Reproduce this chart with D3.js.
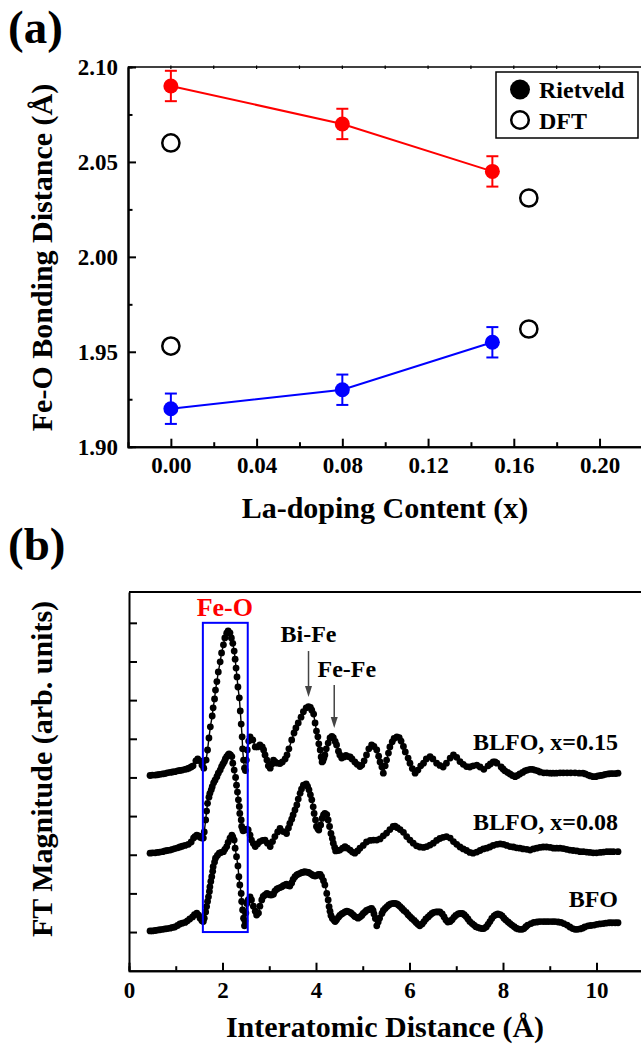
<!DOCTYPE html>
<html>
<head>
<meta charset="utf-8">
<script src="https://cdnjs.cloudflare.com/ajax/libs/d3/7.8.5/d3.min.js"></script>
<style>
  body { margin: 0; background: #fff; }
  text { font-family: "Liberation Serif", "Times New Roman", serif; font-weight: bold; }
</style>
</head>
<body>
<div id="chart"></div>
<script>
// ---- panel (a) data ----
var laContent = [0.00, 0.08, 0.15]
var rietveldLong = [2.090, 2.070, 2.045]
var rietveldShort = [1.920, 1.930, 1.955]
var rietveldErr = [0.008, 0.008, 0.008]
var dftContent = [0.000, 0.167]
var dftLong = [2.060, 2.031]
var dftShort = [1.953, 1.962]
var xTicksA = [0.00, 0.04, 0.08, 0.12, 0.16, 0.20]
var yTicksA = [1.90, 1.95, 2.00, 2.05, 2.10]

// ---- panel (b) data: [R (Å), FT magnitude] ----
var bfoCurve = [[0.45,0.03],[0.50,0.03],[0.56,0.04],[0.61,0.05],[0.66,0.06],[0.72,0.07],[0.77,0.08],[0.82,0.09],[0.88,0.10],[0.93,0.12],[0.98,0.13],[1.04,0.17],[1.09,0.21],[1.14,0.23],[1.20,0.25],[1.25,0.29],[1.30,0.34],[1.36,0.39],[1.40,0.45],[1.45,0.49],[1.49,0.44],[1.52,0.36],[1.56,0.29],[1.59,0.27],[1.61,0.36],[1.64,0.52],[1.66,0.66],[1.68,0.79],[1.70,0.91],[1.72,1.05],[1.73,1.17],[1.75,1.31],[1.77,1.43],[1.79,1.57],[1.80,1.69],[1.83,1.81],[1.85,1.91],[1.89,1.98],[1.93,2.04],[1.97,2.06],[2.02,2.08],[2.05,2.14],[2.09,2.21],[2.12,2.32],[2.16,2.43],[2.20,2.51],[2.22,2.46],[2.25,2.38],[2.27,2.17],[2.30,1.95],[2.33,1.71],[2.35,1.43],[2.37,1.22],[2.40,1.00],[2.41,0.79],[2.43,0.57],[2.45,0.36],[2.47,0.16],[2.48,0.29],[2.50,0.49],[2.52,0.74],[2.55,0.83],[2.59,0.91],[2.62,0.83],[2.66,0.67],[2.70,0.54],[2.73,0.44],[2.77,0.49],[2.80,0.67],[2.84,0.83],[2.87,0.92],[2.91,0.96],[2.95,1.00],[2.98,0.98],[3.02,0.96],[3.05,0.96],[3.09,0.98],[3.12,1.06],[3.16,1.11],[3.19,1.13],[3.23,1.15],[3.27,1.17],[3.30,1.20],[3.34,1.22],[3.37,1.24],[3.41,1.20],[3.44,1.19],[3.48,1.27],[3.51,1.36],[3.55,1.43],[3.59,1.48],[3.62,1.50],[3.66,1.52],[3.70,1.54],[3.73,1.55],[3.76,1.56],[3.81,1.55],[3.84,1.54],[3.87,1.52],[3.91,1.49],[3.94,1.46],[3.98,1.45],[4.01,1.46],[4.05,1.49],[4.09,1.49],[4.12,1.43],[4.16,1.33],[4.19,1.22],[4.23,1.00],[4.26,0.83],[4.28,0.66],[4.30,0.54],[4.32,0.43],[4.35,0.35],[4.39,0.30],[4.41,0.27],[4.44,0.32],[4.48,0.38],[4.51,0.43],[4.55,0.47],[4.58,0.49],[4.62,0.52],[4.66,0.54],[4.69,0.53],[4.73,0.51],[4.76,0.48],[4.80,0.44],[4.83,0.40],[4.87,0.38],[4.90,0.36],[4.94,0.39],[4.98,0.43],[5.01,0.48],[5.05,0.52],[5.08,0.56],[5.12,0.58],[5.16,0.60],[5.19,0.61],[5.22,0.56],[5.24,0.47],[5.27,0.35],[5.30,0.16],[5.33,0.26],[5.36,0.36],[5.41,0.48],[5.44,0.56],[5.48,0.61],[5.52,0.66],[5.56,0.70],[5.60,0.73],[5.65,0.74],[5.69,0.74],[5.73,0.73],[5.76,0.70],[5.80,0.66],[5.84,0.61],[5.88,0.56],[5.93,0.51],[5.97,0.45],[6.01,0.40],[6.05,0.35],[6.10,0.30],[6.14,0.25],[6.18,0.20],[6.22,0.16],[6.27,0.21],[6.31,0.27],[6.35,0.34],[6.40,0.39],[6.44,0.44],[6.48,0.48],[6.52,0.51],[6.57,0.52],[6.61,0.52],[6.65,0.52],[6.70,0.47],[6.74,0.39],[6.78,0.31],[6.82,0.26],[6.87,0.27],[6.91,0.32],[6.95,0.38],[6.99,0.43],[7.04,0.47],[7.08,0.48],[7.13,0.48],[7.17,0.45],[7.21,0.40],[7.25,0.34],[7.29,0.27],[7.34,0.22],[7.38,0.18],[7.42,0.14],[7.46,0.12],[7.51,0.10],[7.55,0.09],[7.59,0.09],[7.64,0.13],[7.68,0.20],[7.72,0.27],[7.76,0.35],[7.81,0.42],[7.85,0.45],[7.89,0.47],[7.94,0.45],[7.98,0.42],[8.02,0.36],[8.06,0.31],[8.11,0.26],[8.15,0.22],[8.19,0.18],[8.24,0.14],[8.28,0.10],[8.32,0.08],[8.36,0.07],[8.41,0.07],[8.45,0.09],[8.49,0.14],[8.53,0.18],[8.60,0.22],[8.66,0.25],[8.73,0.26],[8.79,0.27],[8.86,0.27],[8.92,0.27],[8.98,0.27],[9.05,0.27],[9.11,0.27],[9.18,0.26],[9.24,0.25],[9.30,0.22],[9.37,0.18],[9.43,0.13],[9.49,0.09],[9.54,0.07],[9.59,0.07],[9.65,0.08],[9.70,0.10],[9.75,0.13],[9.82,0.16],[9.88,0.17],[9.95,0.18],[10.01,0.20],[10.07,0.21],[10.14,0.22],[10.20,0.23],[10.27,0.24],[10.33,0.24],[10.40,0.24],[10.46,0.24]]

var blfo008Curve = [[0.45,0.04],[0.50,0.05],[0.56,0.05],[0.61,0.06],[0.66,0.07],[0.72,0.08],[0.77,0.10],[0.82,0.11],[0.88,0.12],[0.93,0.14],[0.98,0.16],[1.04,0.18],[1.09,0.20],[1.14,0.22],[1.20,0.24],[1.27,0.27],[1.33,0.33],[1.38,0.43],[1.41,0.47],[1.45,0.51],[1.49,0.49],[1.52,0.45],[1.56,0.43],[1.59,0.43],[1.61,0.59],[1.64,0.90],[1.66,1.13],[1.68,1.33],[1.71,1.49],[1.73,1.59],[1.76,1.68],[1.78,1.76],[1.81,1.86],[1.84,1.93],[1.88,2.02],[1.91,2.11],[1.95,2.19],[1.98,2.28],[2.01,2.35],[2.04,2.41],[2.06,2.48],[2.09,2.54],[2.12,2.58],[2.14,2.61],[2.17,2.58],[2.20,2.54],[2.22,2.37],[2.25,2.19],[2.28,2.00],[2.30,1.80],[2.32,1.62],[2.34,1.42],[2.36,1.25],[2.37,1.07],[2.40,0.90],[2.41,0.73],[2.43,0.67],[2.44,0.62],[2.48,0.64],[2.52,0.66],[2.55,0.64],[2.59,0.51],[2.62,0.38],[2.66,0.29],[2.70,0.21],[2.75,0.28],[2.80,0.34],[2.86,0.37],[2.91,0.38],[2.96,0.30],[3.02,0.21],[3.07,0.34],[3.12,0.47],[3.18,0.59],[3.23,0.68],[3.30,0.60],[3.37,0.55],[3.41,0.69],[3.44,0.81],[3.48,0.92],[3.51,1.03],[3.55,1.16],[3.59,1.29],[3.62,1.44],[3.66,1.59],[3.69,1.70],[3.73,1.80],[3.79,1.83],[3.82,1.77],[3.85,1.68],[3.88,1.55],[3.91,1.42],[3.94,1.24],[3.96,1.07],[3.99,0.90],[4.01,0.73],[4.04,0.67],[4.06,0.64],[4.10,0.77],[4.13,0.94],[4.16,1.03],[4.19,1.07],[4.23,1.04],[4.26,0.90],[4.29,0.73],[4.32,0.55],[4.35,0.42],[4.37,0.30],[4.40,0.19],[4.42,0.10],[4.47,0.11],[4.51,0.12],[4.57,0.17],[4.62,0.21],[4.67,0.17],[4.73,0.12],[4.78,0.07],[4.83,0.04],[4.89,0.10],[4.94,0.17],[5.01,0.24],[5.08,0.33],[5.16,0.37],[5.23,0.38],[5.30,0.38],[5.37,0.41],[5.44,0.49],[5.51,0.56],[5.58,0.65],[5.65,0.73],[5.69,0.74],[5.74,0.70],[5.80,0.65],[5.87,0.58],[5.94,0.47],[6.01,0.38],[6.08,0.30],[6.15,0.23],[6.22,0.20],[6.30,0.19],[6.37,0.21],[6.44,0.25],[6.51,0.30],[6.58,0.37],[6.65,0.42],[6.72,0.45],[6.79,0.47],[6.87,0.43],[6.94,0.34],[7.01,0.27],[7.08,0.20],[7.15,0.15],[7.22,0.11],[7.29,0.06],[7.36,0.04],[7.44,0.07],[7.51,0.11],[7.58,0.15],[7.65,0.17],[7.72,0.20],[7.79,0.24],[7.87,0.27],[7.94,0.28],[8.01,0.27],[8.08,0.24],[8.15,0.21],[8.22,0.20],[8.29,0.18],[8.36,0.17],[8.43,0.15],[8.51,0.14],[8.58,0.12],[8.65,0.15],[8.72,0.17],[8.79,0.19],[8.86,0.20],[8.93,0.20],[9.01,0.19],[9.08,0.17],[9.15,0.17],[9.22,0.17],[9.29,0.16],[9.36,0.14],[9.43,0.12],[9.50,0.11],[9.58,0.10],[9.65,0.08],[9.72,0.08],[9.79,0.07],[9.86,0.06],[9.93,0.05],[10.00,0.05],[10.08,0.06],[10.15,0.07],[10.22,0.08],[10.29,0.08],[10.36,0.08],[10.46,0.08]]

var blfo015Curve = [[0.45,0.05],[0.50,0.06],[0.56,0.06],[0.61,0.07],[0.66,0.08],[0.72,0.09],[0.77,0.10],[0.82,0.12],[0.88,0.13],[0.93,0.14],[0.98,0.15],[1.04,0.17],[1.09,0.18],[1.14,0.19],[1.20,0.21],[1.24,0.22],[1.28,0.24],[1.33,0.27],[1.37,0.30],[1.43,0.43],[1.47,0.48],[1.52,0.43],[1.56,0.32],[1.60,0.24],[1.65,0.45],[1.68,0.71],[1.71,1.02],[1.74,1.31],[1.78,1.59],[1.80,1.80],[1.83,2.03],[1.85,2.26],[1.88,2.48],[1.91,2.73],[1.95,2.99],[1.98,3.22],[2.02,3.43],[2.05,3.61],[2.09,3.73],[2.12,3.79],[2.16,3.74],[2.19,3.61],[2.22,3.47],[2.25,3.27],[2.27,3.06],[2.29,2.83],[2.31,2.60],[2.33,2.34],[2.36,2.06],[2.38,1.72],[2.40,1.38],[2.42,1.05],[2.43,0.74],[2.45,0.45],[2.47,0.24],[2.49,0.18],[2.51,0.45],[2.53,0.71],[2.56,0.94],[2.59,1.05],[2.65,0.97],[2.70,0.79],[2.75,0.79],[2.80,0.84],[2.85,0.79],[2.88,0.71],[2.91,0.58],[2.95,0.45],[2.98,0.30],[3.02,0.24],[3.06,0.35],[3.09,0.45],[3.12,0.41],[3.17,0.37],[3.23,0.36],[3.28,0.40],[3.34,0.48],[3.38,0.58],[3.42,0.74],[3.48,0.97],[3.53,1.15],[3.57,1.28],[3.62,1.41],[3.68,1.56],[3.73,1.70],[3.79,1.80],[3.84,1.83],[3.88,1.81],[3.91,1.74],[3.95,1.64],[3.98,1.41],[4.01,1.20],[4.04,1.05],[4.06,0.87],[4.09,0.71],[4.11,0.53],[4.13,0.40],[4.15,0.43],[4.17,0.50],[4.19,0.58],[4.22,0.74],[4.26,0.89],[4.30,1.02],[4.34,1.06],[4.37,1.03],[4.41,0.93],[4.44,0.84],[4.48,0.68],[4.51,0.58],[4.55,0.50],[4.60,0.53],[4.64,0.57],[4.69,0.54],[4.73,0.53],[4.77,0.48],[4.83,0.40],[4.88,0.34],[4.94,0.28],[4.98,0.32],[5.03,0.43],[5.08,0.58],[5.13,0.74],[5.19,0.84],[5.24,0.80],[5.30,0.71],[5.34,0.55],[5.37,0.40],[5.41,0.27],[5.44,0.11],[5.48,0.30],[5.51,0.45],[5.55,0.63],[5.58,0.79],[5.63,0.92],[5.67,1.01],[5.73,1.05],[5.78,1.03],[5.82,0.94],[5.87,0.80],[5.91,0.66],[5.97,0.50],[6.01,0.37],[6.06,0.23],[6.12,0.11],[6.18,0.19],[6.24,0.30],[6.30,0.37],[6.36,0.48],[6.44,0.54],[6.50,0.48],[6.58,0.37],[6.65,0.31],[6.72,0.27],[6.79,0.37],[6.87,0.50],[6.94,0.58],[7.01,0.52],[7.08,0.41],[7.15,0.34],[7.22,0.28],[7.29,0.27],[7.36,0.30],[7.44,0.32],[7.51,0.27],[7.59,0.21],[7.68,0.30],[7.73,0.35],[7.79,0.40],[7.83,0.40],[7.87,0.37],[7.96,0.27],[8.00,0.22],[8.04,0.17],[8.10,0.13],[8.15,0.09],[8.20,0.05],[8.26,0.02],[8.31,0.05],[8.36,0.09],[8.42,0.13],[8.47,0.17],[8.52,0.19],[8.58,0.21],[8.63,0.21],[8.68,0.19],[8.74,0.17],[8.79,0.14],[8.87,0.12],[8.94,0.12],[9.01,0.11],[9.07,0.11],[9.14,0.11],[9.22,0.12],[9.29,0.12],[9.37,0.12],[9.45,0.12],[9.54,0.12],[9.63,0.11],[9.71,0.11],[9.76,0.09],[9.82,0.06],[9.87,0.04],[9.93,0.02],[9.98,0.02],[10.03,0.04],[10.09,0.05],[10.14,0.06],[10.19,0.08],[10.25,0.09],[10.30,0.10],[10.35,0.10],[10.41,0.10],[10.46,0.11]]

var curveNames = ["BFO", "BLFO, x=0.08", "BLFO, x=0.15"]
var curveOffsets = [1, 3, 5]
var xTicksB = [0, 2, 4, 6, 8, 10]

var W = 641, H = 1049
var svg = d3.select("#chart").append("svg")
  .attr("width", W).attr("height", H)
svg.append("rect").attr("width", W).attr("height", H).attr("fill", "#fff")

// ================= panel (a) =================
var xA = d3.scaleLinear().domain([-0.02, 0.22]).range([128, 642.4])
var yA = d3.scaleLinear().domain([1.90, 2.10]).range([446.7, 67])
var gA = svg.append("g")

function styleAxis(g, size) {
  g.select(".domain").attr("stroke-width", 2)
  g.selectAll(".tick line").attr("stroke-width", 2)
  g.selectAll("text").style("font-size", size + "px").attr("fill", "#000")
}

// minor ticks first
gA.append("g").attr("transform", "translate(0,446.7)")
  .call(d3.axisBottom(xA).tickValues([0.02, 0.06, 0.10, 0.14, 0.18]).tickSize(-4.5).tickFormat(""))
  .call(styleAxis, 23)
gA.append("g").attr("transform", "translate(128,0)")
  .call(d3.axisLeft(yA).tickValues([1.925, 1.975, 2.025, 2.075]).tickSize(-4.5).tickFormat(""))
  .call(styleAxis, 23)

gA.append("g").attr("transform", "translate(0,446.7)")
  .call(d3.axisBottom(xA).tickValues(xTicksA).tickSizeInner(-8).tickSizeOuter(0)
    .tickPadding(10).tickFormat(d3.format(".2f")))
  .call(styleAxis, 23)
gA.append("g").attr("transform", "translate(128,0)")
  .call(d3.axisLeft(yA).tickValues(yTicksA).tickSizeInner(-8).tickSizeOuter(0)
    .tickPadding(10).tickFormat(d3.format(".2f")))
  .call(styleAxis, 23)

// top frame with tiny ticks
gA.append("line").attr("x1", 128).attr("x2", 642.4).attr("y1", 67).attr("y2", 67)
  .attr("stroke", "#000").attr("stroke-width", 1.5)
gA.append("g").selectAll("line").data(d3.range(0, 0.21, 0.02)).enter().append("line")
  .attr("x1", function(d) { return xA(d) }).attr("x2", function(d) { return xA(d) })
  .attr("y1", 65.5).attr("y2", 69).attr("stroke", "#000").attr("stroke-width", 1.2)
gA.append("line").attr("x1", 642.4).attr("x2", 642.4).attr("y1", 67).attr("y2", 446.7)
  .attr("stroke", "#000").attr("stroke-width", 2)

// Rietveld lines + error bars
var seriesA = [
  { vals: rietveldLong, colour: "#ff0000" },
  { vals: rietveldShort, colour: "#0000ff" }
]
seriesA.forEach(function(s) {
  var pts = laContent.map(function(x, i) { return [x, s.vals[i], rietveldErr[i]] })
  gA.append("path")
    .attr("d", d3.line().x(function(d) { return xA(d[0]) }).y(function(d) { return yA(d[1]) })(pts))
    .attr("fill", "none").attr("stroke", s.colour).attr("stroke-width", 2)
  var eb = gA.append("g").selectAll("g").data(pts).enter().append("g")
  eb.append("line")
    .attr("x1", function(d) { return xA(d[0]) }).attr("x2", function(d) { return xA(d[0]) })
    .attr("y1", function(d) { return yA(d[1] - d[2]) }).attr("y2", function(d) { return yA(d[1] + d[2]) })
    .attr("stroke", s.colour).attr("stroke-width", 2)
  ;[-1, 1].forEach(function(sgn) {
    eb.append("line")
      .attr("x1", function(d) { return xA(d[0]) - 6 }).attr("x2", function(d) { return xA(d[0]) + 6 })
      .attr("y1", function(d) { return yA(d[1] + sgn * d[2]) }).attr("y2", function(d) { return yA(d[1] + sgn * d[2]) })
      .attr("stroke", s.colour).attr("stroke-width", 2)
  })
  eb.append("circle")
    .attr("cx", function(d) { return xA(d[0]) }).attr("cy", function(d) { return yA(d[1]) })
    .attr("r", 7.5).attr("fill", s.colour)
})

// DFT open circles
var dftPts = []
dftContent.forEach(function(x, i) { dftPts.push([x, dftLong[i]]); dftPts.push([x, dftShort[i]]) })
gA.append("g").selectAll("circle").data(dftPts).enter().append("circle")
  .attr("cx", function(d) { return xA(d[0]) }).attr("cy", function(d) { return yA(d[1]) })
  .attr("r", 8.6).attr("fill", "none").attr("stroke", "#000").attr("stroke-width", 2.5)

// legend
var leg = gA.append("g")
leg.append("rect").attr("x", 496).attr("y", 72).attr("width", 142).attr("height", 66)
  .attr("fill", "#fff").attr("stroke", "#000").attr("stroke-width", 1.5)
leg.append("circle").attr("cx", 520).attr("cy", 89.5).attr("r", 10).attr("fill", "#000")
leg.append("circle").attr("cx", 520).attr("cy", 120).attr("r", 8.8)
  .attr("fill", "none").attr("stroke", "#000").attr("stroke-width", 2.5)
leg.append("text").attr("x", 539).attr("y", 97.5).style("font-size", "24px").text("Rietveld")
leg.append("text").attr("x", 539).attr("y", 128.5).style("font-size", "24px").text("DFT")

// titles
gA.append("text").attr("x", 8).attr("y", 43).style("font-size", "47px").text("(a)")
gA.append("text").attr("text-anchor", "middle").attr("x", 385).attr("y", 518)
  .style("font-size", "30px").text("La-doping Content (x)")
gA.append("text").attr("text-anchor", "middle")
  .attr("transform", "translate(52,257.5) rotate(-90)")
  .style("font-size", "30px").text("Fe-O Bonding Distance (Å)")

// ================= panel (b) =================
var xB = d3.scaleLinear().domain([0, 11]).range([129, 643.25])
var yB = d3.scaleLinear().domain([0, 9.8]).range([970.7, 591.9])
var gB = svg.append("g")

gB.append("g").attr("transform", "translate(0,970.7)")
  .call(d3.axisBottom(xB).tickValues([1, 3, 5, 7, 9]).tickSize(-4.5).tickFormat(""))
  .call(styleAxis, 23)
gB.append("g").attr("transform", "translate(0,970.7)")
  .call(d3.axisBottom(xB).tickValues(xTicksB).tickSizeInner(-8).tickSizeOuter(0).tickPadding(11))
  .call(styleAxis, 23)
gB.append("g").attr("transform", "translate(129,0)")
  .call(d3.axisLeft(yB).tickValues(d3.range(1, 10)).tickSizeInner(-8).tickSizeOuter(0).tickFormat(""))
  .call(styleAxis, 23)
gB.append("line").attr("x1", 129).attr("x2", 643.25).attr("y1", 591.9).attr("y2", 591.9)
  .attr("stroke", "#000").attr("stroke-width", 2)
gB.append("line").attr("x1", 643.25).attr("x2", 643.25).attr("y1", 591.9).attr("y2", 970.7)
  .attr("stroke", "#000").attr("stroke-width", 2)

// stacked FT curves: thin connecting line + dots
var curves = [bfoCurve, blfo008Curve, blfo015Curve]
curves.forEach(function(c, i) {
  var off = curveOffsets[i]
  var line = d3.line()
    .x(function(d) { return xB(d[0]) })
    .y(function(d) { return yB(d[1] + off) })
  gB.append("path").attr("d", line(c))
    .attr("fill", "none").attr("stroke", "#000").attr("stroke-width", 1.4)
  gB.append("g").selectAll("circle").data(c).enter().append("circle")
    .attr("cx", function(d) { return xB(d[0]) })
    .attr("cy", function(d) { return yB(d[1] + off) })
    .attr("r", 3.4).attr("fill", "#000")
})

// curve labels
var labelV = [1.65, 3.64, 5.71]
curveNames.forEach(function(name, i) {
  gB.append("text").attr("text-anchor", "end").attr("x", xB(10.46)).attr("y", yB(labelV[i]))
    .style("font-size", "24px").text(name)
})

// Fe-O box
gB.append("rect")
  .attr("x", xB(1.58)).attr("y", yB(9.0))
  .attr("width", xB(2.54) - xB(1.58)).attr("height", yB(1.0) - yB(9.0))
  .attr("fill", "none").attr("stroke", "#0000ff").attr("stroke-width", 2)
gB.append("text").attr("text-anchor", "middle").attr("x", xB(2.05)).attr("y", yB(9.18))
  .attr("fill", "#ff0000").style("font-size", "26px").text("Fe-O")

// peak arrows
var arrows = [
  { text: "Bi-Fe", r: 3.84, tx: 3.84, tv: 8.51, v0: 8.27, v1: 7.08 },
  { text: "Fe-Fe", r: 4.39, tx: 4.66, tv: 7.61, v0: 7.39, v1: 6.28 }
]
arrows.forEach(function(a) {
  var x = xB(a.r), y0 = yB(a.v0), y1 = yB(a.v1)
  gB.append("line").attr("x1", x).attr("x2", x).attr("y1", y0).attr("y2", y1 - 6)
    .attr("stroke", "#444").attr("stroke-width", 1.5)
  gB.append("path").attr("d", "M" + x + "," + y1 + "L" + (x - 3.5) + "," + (y1 - 11) + "L" + (x + 3.5) + "," + (y1 - 11) + "Z")
    .attr("fill", "#444")
  gB.append("text").attr("text-anchor", "middle").attr("x", xB(a.tx)).attr("y", yB(a.tv))
    .attr("fill", "#000").style("font-size", "24px").text(a.text)
})

gB.append("text").attr("x", 8).attr("y", 560).style("font-size", "47px").text("(b)")
gB.append("text").attr("text-anchor", "middle").attr("x", 385).attr("y", 1037)
  .style("font-size", "30px").text("Interatomic Distance (Å)")
gB.append("text").attr("text-anchor", "middle")
  .attr("transform", "translate(52,769) rotate(-90)")
  .style("font-size", "30px").text("FT Magnitude (arb. units)")
</script>
</body>
</html>
